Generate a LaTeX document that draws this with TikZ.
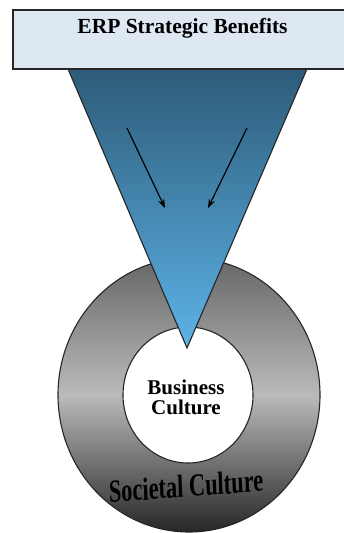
\documentclass[tikz,border=0pt]{standalone}
\usepackage{fontspec}
\setmainfont{Liberation Serif}
\usepackage{tikz}
\usetikzlibrary{arrows.meta,shapes.geometric}
\definecolor{funneltop}{HTML}{2D5B78}
\definecolor{funnelbot}{HTML}{5DB3E8}
\definecolor{bannerfill}{HTML}{DDE8F3}

\begin{document}
\begin{tikzpicture}[x=1pt,y=-1pt]
		\useasboundingbox (0,0) rectangle (343,533);
		\begin{scope}[every node/.style={ellipse,draw=black!85,line width=1.1pt,inner sep=0pt}]
		    \node (societal) [top color=black!60,bottom color=black!85,middle color=black!27,minimum width=262pt,minimum height=274pt] at (189,395) {};
		    \node (business) [fill=white,minimum width=130pt,minimum height=136pt] at (188,395) {};
		\end{scope}
		
		% funnel
		\coordinate (fun-l) at (68,69);
		\coordinate (fun-r) at (307,69);
		\coordinate (fun-tip) at (187,348);
		\draw[line width=1.1pt,draw=black!85,top color=funneltop,bottom color=funnelbot]
		    (fun-l) -- (fun-r) -- (fun-tip) -- cycle;
		
		\node (banner) [draw=black!85,line width=1.2pt,fill=bannerfill,minimum width=334pt,minimum height=59pt,inner sep=0pt] at (180,39.5) {};
		\node (title) at (182.5,28) {\fontsize{21.5}{22}\selectfont\bfseries ERP Strategic Benefits};
		
		\node (bus-text) [align=center,font=\fontsize{21}{20}\selectfont\bfseries] at (186,397) {Business\\Culture};
		\node (soc-text) [font=\fontsize{32}{32}\selectfont\bfseries,xscale=0.7,rotate=3] at (186,486) {Societal Culture};
		
		\begin{scope}[>={Stealth[black,length=9pt,width=6.5pt]},line width=1.2pt]
		    \coordinate (arr-l1) at (127,128);
		    \coordinate (arr-l2) at (165,208);
		    \coordinate (arr-r1) at (247,128);
		    \coordinate (arr-r2) at (208,208);
		    \draw[->] (arr-l1) -- (arr-l2);
		    \draw[->] (arr-r1) -- (arr-r2);
		\end{scope}
\end{tikzpicture}
\end{document}
